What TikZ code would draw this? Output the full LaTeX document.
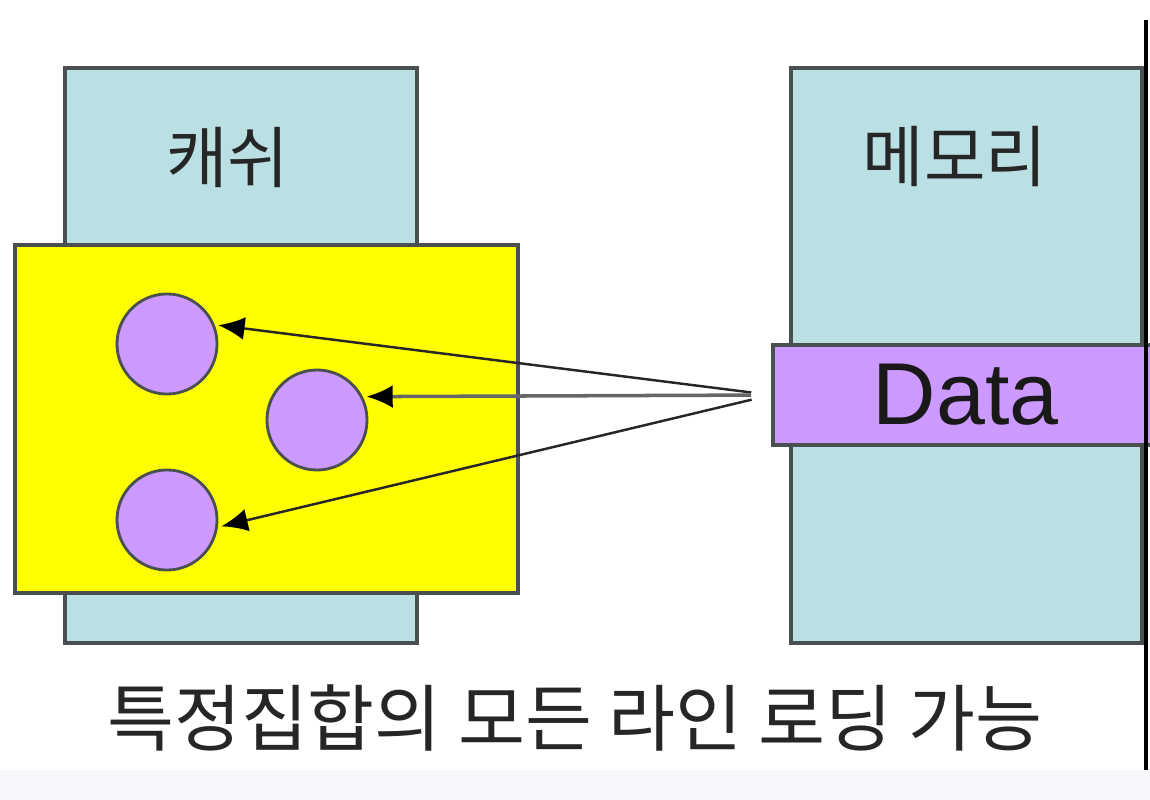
\documentclass[tikz,border=0pt]{standalone}
\usepackage{fontspec}
\setmainfont{Liberation Sans}
\newfontfamily\krfont{Noto Sans CJK KR}
\usepackage{tikz}
\usetikzlibrary{arrows.meta}
\definecolor{boxcyan}{HTML}{BAE0E3}
\definecolor{setyellow}{HTML}{FFFF00}
\definecolor{lineviolet}{HTML}{CC99FF}
\definecolor{edgegray}{HTML}{4A4F50}
\definecolor{bandgray}{HTML}{F6F7FB}

\begin{document}
\begin{tikzpicture}[x=0.01cm, y=-0.01cm,
        unitbox/.style={draw=edgegray, line width=1pt, fill=boxcyan, inner sep=0pt},
        setbox/.style={draw=edgegray, line width=1pt, fill=setyellow, inner sep=0pt},
        slot/.style={circle, draw=edgegray, line width=0.8pt, fill=lineviolet, minimum size=1cm, inner sep=0pt},
        krtext/.style={font=\krfont\fontsize{19}{22}\selectfont, text=black!85},
        load/.style={-{Latex[length=7.5pt,width=6.5pt,color=black]}, line width=0.7pt, black!85, shorten <=5.7pt, shorten >=1pt}]
        \useasboundingbox (0,0) rectangle (1150,800);
        \fill[white] (0,0) rectangle (1150,770);
        \fill[bandgray] (0,770) rectangle (1150,800);

        \node[unitbox, minimum width=3.52cm, minimum height=5.75cm] (cache) at (241,355.5) {};
        \node[unitbox, minimum width=3.51cm, minimum height=5.75cm] (memory) at (966.5,355.5) {};
        \node[krtext] (cachelbl) at (228,157) {캐쉬};
        \node[krtext] (memorylbl) at (955,157) {메모리};

        \node[setbox, minimum width=5.03cm, minimum height=3.48cm] (set) at (266.5,419) {};
        \node[slot] (line1) at (167,344) {};
        \node[slot] (line2) at (317,420) {};
        \node[slot] (line3) at (167,520) {};

        \node[draw=edgegray, line width=1pt, fill=lineviolet, minimum width=3.85cm, minimum height=1cm,
            font=\fontsize{25}{28}\selectfont, text=black!90] (data) at (965.5,395) {Data};

        \draw[load] (data.west) -- (line1.22);
        \draw[load, black!60, line width=1pt] (data.west) -- (line2.27);
        \draw[load] (data.west) -- (line3.-8);

        \draw[black, line width=1pt] (1146,20) -- (1146,770);

        \node[krtext, font=\krfont\fontsize{20.7}{24}\selectfont] (caption) at (575,718) {특정집합의 모든 라인 로딩 가능};
    \end{tikzpicture}
\end{document}
